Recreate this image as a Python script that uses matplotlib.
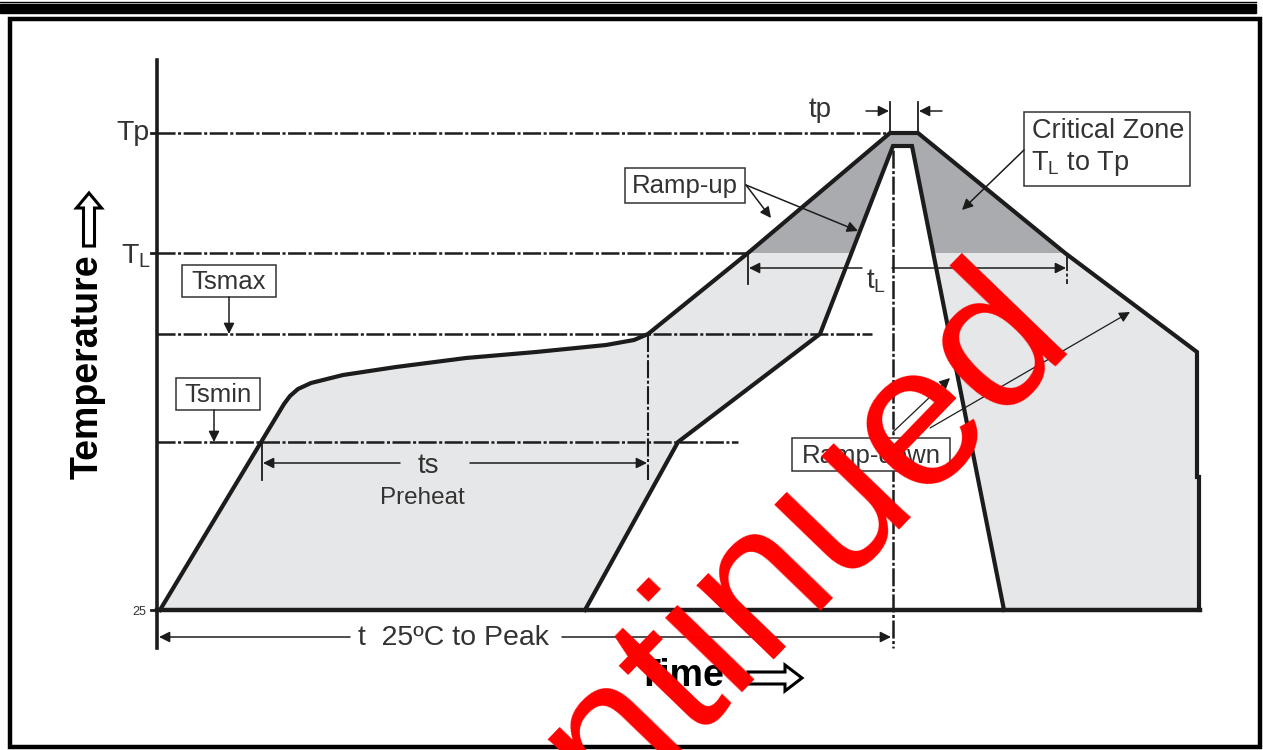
import matplotlib
matplotlib.use("Agg")
import matplotlib.pyplot as plt
from matplotlib.patches import Polygon, Rectangle, FancyArrow

plt.rcParams['font.family'] = ['Liberation Sans', 'DejaVu Sans']
plt.rcParams['mathtext.fontset'] = 'custom'
plt.rcParams['mathtext.rm'] = 'Liberation Sans'
plt.rcParams['lines.scale_dashes'] = False

# drawing units: time to the right, temperature upward (axis is inverted, picture units)
level_names = ['Tp', r'$\mathregular{T_L}$', 'Tsmax', 'Tsmin', '25']
level_T = [133, 253, 334, 442, 610]
level_end = [890, 748, 872, 738, 1200]

# upper (slow) profile
outer_t = [160, 284, 290, 298, 311, 343, 396, 466, 536, 606, 634, 648, 748, 890, 918, 1065, 1197, 1197, 1199, 1199]
outer_T = [610, 404, 396, 389, 383, 375, 367, 358, 352, 345, 340, 334, 253, 133, 133, 253, 352, 477, 477, 610]

# lower (fast) profile
inner_t = [585, 678, 820, 893, 912, 1004]
inner_T = [610, 442, 334, 146, 146, 610]

LIGHT = '#e6e7e9'
DARK = '#a9abae'
INK = '#1c1c1c'
TXT = '#333333'

fig = plt.figure(figsize=(12.63, 7.5), dpi=100)
ax = fig.add_axes([0, 0, 1, 1])
ax.set_xlim(0, 1263)
ax.set_ylim(750, 0)
ax.axis('off')

# page frame
ax.plot([0, 1256], [1.5, 1.5], color='black', lw=1)
ax.add_patch(Rectangle((0, 4), 1256, 9, color='black'))
ax.add_patch(Rectangle((10, 19), 1250, 728, fill=False, ec='black', lw=3.2))

# filled zones
poly_xy = list(zip(outer_t, outer_T)) + list(zip(inner_t[::-1], inner_T[::-1]))
ax.add_patch(Polygon(poly_xy, closed=True, fc=LIGHT, ec='none', zorder=1))
dark = Polygon(poly_xy, closed=True, fc=DARK, ec='none', zorder=1.5)
ax.add_patch(dark)
dark.set_clip_path(Rectangle((0, 0), 1263, level_T[1], transform=ax.transData))

# dashed level lines
dash = (0, (13, 1.8, 2.2, 1.8))
for T, xe in zip(level_T[:4], level_end[:4]):
    ax.plot([157, xe], [T, T], color=INK, lw=1.8, ls=dash, zorder=2)
ax.plot([648, 648], [334, 480], color=INK, lw=1.5, ls=dash, zorder=2)
ax.plot([893, 893], [150, 648], color=INK, lw=1.8, ls=dash, zorder=2)
ax.plot([1067, 1067], [253, 284], color=INK, lw=1.3, ls=dash, zorder=2)

# profiles
ax.plot(outer_t, outer_T, color=INK, lw=3, solid_joinstyle='miter', zorder=3)
ax.plot(inner_t, inner_T, color=INK, lw=3, solid_joinstyle='miter', zorder=3)

# axes
ax.plot([157, 157], [60, 648], color=INK, lw=2.6, zorder=4)
ax.plot([157, 1200], [610, 610], color=INK, lw=3.2, zorder=4)
for T in [level_T[0], level_T[1], level_T[4]]:
    ax.plot([151, 157], [T, T], color=INK, lw=2, zorder=4)

ax.text(150, 133, level_names[0], ha='right', va='center', fontsize=20.5, color=TXT)
ax.text(151, 256, level_names[1], ha='right', va='center', fontsize=20.5, color=TXT)
ax.text(146, 612, level_names[4], ha='right', va='center', fontsize=9, color=TXT)


def arrow(x0, y0, x1, y1, lw=1.1):
    ax.annotate('', xy=(x1, y1), xytext=(x0, y0),
                arrowprops=dict(arrowstyle='-|>', color=INK, lw=lw,
                                mutation_scale=16, shrinkA=0, shrinkB=0),
                zorder=5)


def box(x0, y0, x1, y1, label, fs=18.5):
    ax.add_patch(Rectangle((x0, y0), x1 - x0, y1 - y0, fc='white', ec=TXT, lw=1.1, zorder=5))
    ax.text((x0 + x1) / 2, (y0 + y1) / 2 + 1, label, ha='center', va='center',
            fontsize=fs, color=TXT, zorder=6)


# Tsmax / Tsmin
box(182, 265, 276, 297, level_names[2])
arrow(229, 297, 229, 334)
box(176, 378, 260, 410, level_names[3])
arrow(214, 410, 214, 442)

# ts preheat
ax.plot([262, 262], [442, 480], color=INK, lw=1.3, zorder=4)
arrow(400, 463, 263, 463)
arrow(470, 463, 647, 463)
ax.text(428, 466, 'ts', ha='center', va='center', fontsize=20, color=TXT)
ax.text(422, 498, 'Preheat', ha='center', va='center', fontsize=17.5, color=TXT)

# t 25C to peak
arrow(350, 637, 159, 637)
arrow(562, 637, 891, 637)
ax.text(454, 638, 't  25ºC to Peak', ha='center', va='center', fontsize=20.5, color=TXT)

# tp
ax.plot([890, 890], [102, 133], color=INK, lw=1.3, zorder=4)
ax.plot([918, 918], [102, 133], color=INK, lw=1.3, zorder=4)
arrow(866, 111, 889, 111)
arrow(942, 111, 919, 111)
ax.text(820, 110, 'tp', ha='center', va='center', fontsize=20, color=TXT)

# tL
ax.plot([748, 748], [253, 284], color=INK, lw=1.3, zorder=4)
arrow(862, 268, 749, 268)
arrow(892, 268, 1066, 268)
ax.text(876, 281, r'$\mathregular{t_L}$', ha='center', va='center', fontsize=20, color=TXT)

# Ramp-up
box(625, 168, 745, 203, 'Ramp-up')
arrow(746, 185, 771, 218)
arrow(746, 185, 858, 231)

# Critical zone
ax.add_patch(Rectangle((1024, 112), 166, 74, fc='white', ec=TXT, lw=1.1, zorder=5))
ax.text(1108, 131, 'Critical Zone', ha='center', va='center', fontsize=19.5, color=TXT, zorder=6)
ax.text(1031, 164, r'$\mathregular{T_L}$ to Tp', ha='left', va='center', fontsize=19.5, color=TXT, zorder=6)
arrow(1024, 150, 962, 210)

# Ramp-down
box(792, 438, 950, 471, 'Ramp-down')
arrow(893, 432, 950, 378, lw=0.9)
arrow(930, 428, 1130, 312, lw=0.9)

# axis titles with hollow arrows
ax.text(88, 367, 'Temperature', rotation=90, ha='center', va='center',
        fontsize=27, fontweight='bold', color='black')
ax.add_patch(FancyArrow(89, 246, 0, -53, width=11, head_width=25, head_length=15,
                        length_includes_head=True, fc='white', ec='black', lw=2.2))
ax.text(681, 676, 'Time', ha='center', va='center', fontsize=27, fontweight='bold', color='black')
ax.add_patch(FancyArrow(748, 678, 54, 0, width=12, head_width=26, head_length=17,
                        length_includes_head=True, fc='white', ec='black', lw=2.2))

# watermark
ax.text(666, 754, 'Discontinued', rotation=46, rotation_mode='anchor',
        ha='center', va='baseline', fontsize=146, color='#ff0000', zorder=10)

fig.savefig('out.png', dpi=100)
